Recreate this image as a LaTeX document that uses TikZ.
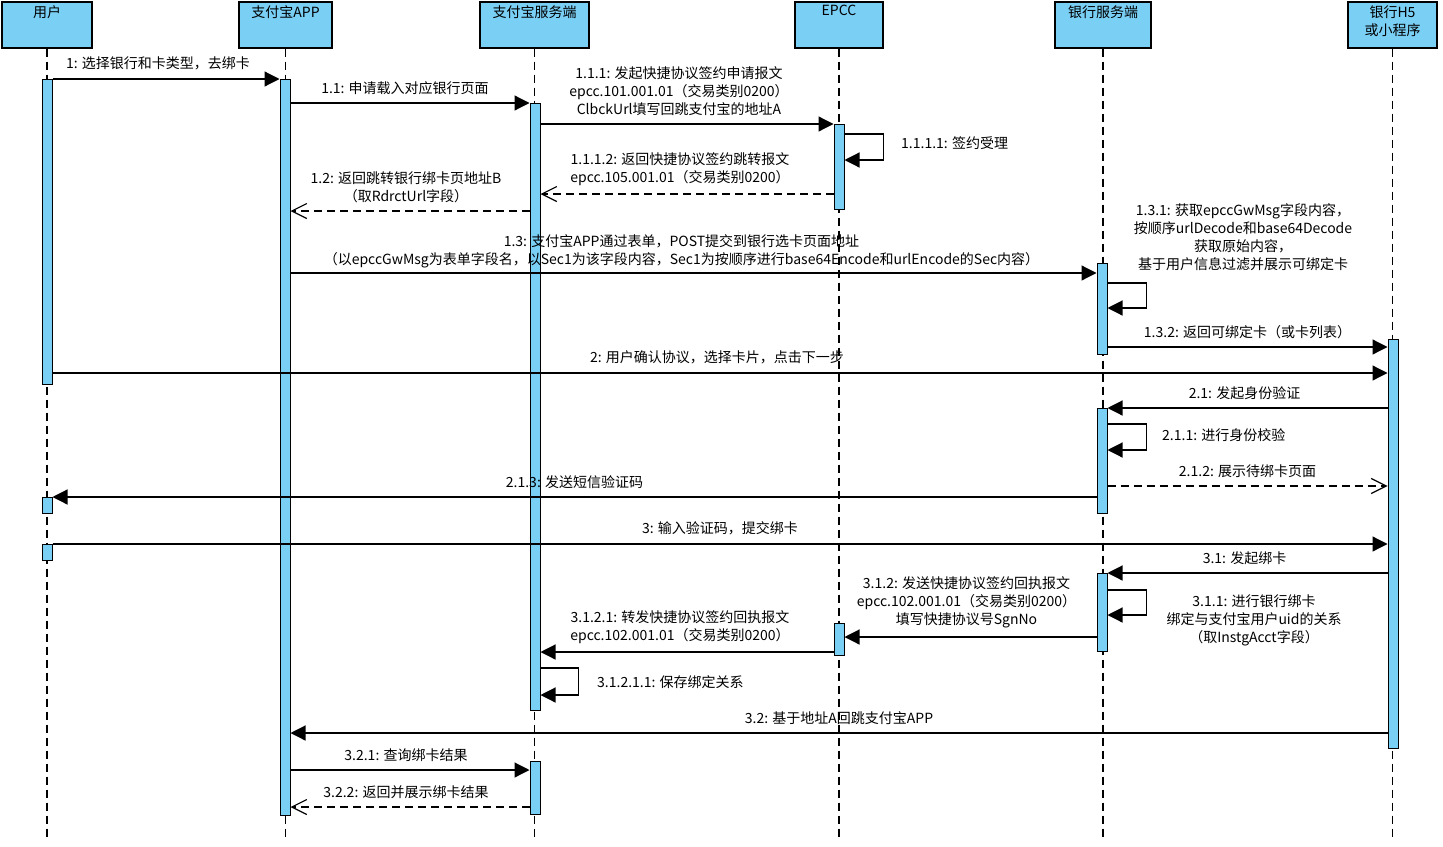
\documentclass[tikz,border=0pt]{standalone}
\usepackage{fontspec}
\setmainfont{Noto Sans CJK SC}
\usepackage{tikz}
\usetikzlibrary{positioning,arrows.meta}
\definecolor{actblue}{RGB}{122,207,245}

\begin{document}
\begin{tikzpicture}[x=1pt, y=-1pt,
    font=\fontsize{14}{18}\selectfont,
    actor/.style={rectangle, draw, fill=actblue, line width=1.3pt, minimum height=46pt, inner sep=0pt},
    bar/.style={rectangle, draw, fill=actblue, line width=1pt, minimum width=10pt, inner sep=0pt, anchor=north},
    life/.style={line width=1.1pt, dash pattern=on 8pt off 5pt},
    msg/.style={line width=1.2pt, -{Triangle[length=15pt,width=15pt]}},
    ret/.style={line width=1.2pt, dash pattern=on 8pt off 5pt, -{Straight Barb[length=15pt,width=15pt]}},
    lbl/.style={align=center, inner sep=1pt},
    head/.style={lbl, anchor=north, inner sep=4pt}]
  \useasboundingbox (0,0) rectangle (1443,846);

  % participants
  \node[actor, minimum width=90pt,  label={[head]north:用户}]       (user)    at (47,25)   {};
  \node[actor, minimum width=93pt,  label={[head]north:支付宝APP}]  (app)     at (285.5,25) {};
  \node[actor, minimum width=109pt, label={[head]north:支付宝服务端}] (alisrv) at (534.5,25) {};
  \node[actor, minimum width=88pt,  label={[head]north:EPCC}]       (epcc)    at (839,25)  {};
  \node[actor, minimum width=96pt,  label={[head]north:银行服务端}]  (banksrv) at (1103,25) {};
  \node[actor, minimum width=89pt,  label={[head]north:{银行H5\\或小程序}}] (bankh5) at (1392.5,25) {};

  % lifelines
  \foreach \p in {user,app,alisrv,epcc,banksrv,bankh5}
    \draw[life] (\p.south) -- ++(0,792);

  % activations
  \node[bar, minimum height=305pt] (userA)   at (47,79)   {};
  \node[bar, minimum height=16pt]  (userB)   at (47,497)  {};
  \node[bar, minimum height=16pt]  (userC)   at (47,544)  {};
  \node[bar, minimum height=736pt] (appA)    at (285,79)  {};
  \node[bar, minimum height=607pt] (alisrvA) at (535,103) {};
  \node[bar, minimum height=53pt]  (alisrvB) at (535,761) {};
  \node[bar, minimum height=85pt]  (epccA)   at (839,124) {};
  \node[bar, minimum height=32pt]  (epccB)   at (839,623) {};
  \node[bar, minimum height=91pt]  (bankA)   at (1102,263) {};
  \node[bar, minimum height=105pt] (bankB)   at (1102,408) {};
  \node[bar, minimum height=78pt]  (bankC)   at (1102,573) {};
  \node[bar, minimum height=409pt] (h5A)     at (1393,339) {};

  % messages
  \draw[msg] (userA.north east) -- node[lbl, above=7pt, xshift=-8pt] (t1) {1: 选择银行和卡类型，去绑卡} (appA.north west);
  \draw[msg] (appA.east |- alisrvA.north) -- node[lbl, above=7pt, xshift=-5pt] (t11) {1.1: 申请载入对应银行页面} (alisrvA.north west);
  \draw[msg] (alisrvA.east |- epccA.north) -- node[lbl, above=7pt, xshift=-8pt] (t111) {1.1.1: 发起快捷协议签约申请报文\\epcc.101.001.01（交易类别0200）\\ClbckUrl填写回跳支付宝的地址A} (epccA.north west);
  \draw[msg] (epccA.east |- 0,134) -- ++(39,0) |- (epccA.east |- 0,160);
  \node[lbl, anchor=west] (t1111) at (900,143) {1.1.1.1: 签约受理};
  \draw[ret] (epccA.west |- 0,194) -- node[lbl, above=7pt, xshift=-7pt] (t1112) {1.1.1.2: 返回快捷协议签约跳转报文\\epcc.105.001.01（交易类别0200）} (alisrvA.east |- 0,194);
  \draw[ret] (alisrvA.west |- 0,211) -- node[lbl, above=7pt, xshift=-4pt] (t12) {1.2: 返回跳转银行绑卡页地址B\\（取RdrctUrl字段）} (appA.east |- 0,211);
  \draw[msg] (appA.east |- 0,273) -- node[lbl, above=3pt, xshift=-12pt] (t13) {1.3: 支付宝APP通过表单，POST提交到银行选卡页面地址\\（以epccGwMsg为表单字段名，以Sec1为该字段内容，Sec1为按顺序进行base64Encode和urlEncode的Sec内容）} (bankA.west |- 0,273);
  \draw[msg] (bankA.east |- 0,283) -- ++(39,0) |- (bankA.east |- 0,308);
  \node[lbl] (t131) at (1243,237) {1.3.1: 获取epccGwMsg字段内容，\\按顺序urlDecode和base64Decode\\获取原始内容，\\基于用户信息过滤并展示可绑定卡};
  \draw[msg] (bankA.east |- 0,347) -- node[lbl, above=7pt] (t132) {1.3.2: 返回可绑定卡（或卡列表）} (h5A.west |- 0,347);
  \draw[msg] (userA.east |- 0,373) -- node[lbl, above=7pt, xshift=-3pt] (t2) {2: 用户确认协议，选择卡片，点击下一步} (h5A.west |- 0,373);
  \draw[msg] (h5A.west |- bankB.north) -- node[lbl, above=7pt, xshift=-3pt] (t21) {2.1: 发起身份验证} (bankB.north east);
  \draw[msg] (bankB.east |- 0,424) -- ++(39,0) |- (bankB.east |- 0,450);
  \node[lbl, anchor=west] (t211) at (1161,435) {2.1.1: 进行身份校验};
  \draw[ret] (bankB.east |- 0,486) -- node[lbl, above=7pt] (t212) {2.1.2: 展示待绑卡页面} (h5A.west |- 0,486);
  \draw[msg] (bankB.west |- userB.north) -- node[lbl, above=7pt] (t213) {2.1.3: 发送短信验证码} (userB.north east);
  \draw[msg] (userC.north east) -- node[lbl, above=7pt] (t3) {3: 输入验证码，提交绑卡} (h5A.west |- userC.north);
  \draw[msg] (h5A.west |- bankC.north) -- node[lbl, above=7pt, xshift=-3pt] (t31) {3.1: 发起绑卡} (bankC.north east);
  \draw[msg] (bankC.east |- 0,590) -- ++(39,0) |- (bankC.east |- 0,615);
  \node[lbl] (t311) at (1254,620) {3.1.1: 进行银行绑卡\\绑定与支付宝用户uid的关系\\（取InstgAcct字段）};
  \draw[msg] (bankC.west |- 0,637) -- node[lbl, above=7pt, xshift=-4pt] (t312) {3.1.2: 发送快捷协议签约回执报文\\epcc.102.001.01（交易类别0200）\\填写快捷协议号SgnNo} (epccB.east |- 0,637);
  \draw[msg] (epccB.west |- 0,652) -- node[lbl, above=7pt, xshift=-7pt] (t3121) {3.1.2.1: 转发快捷协议签约回执报文\\epcc.102.001.01（交易类别0200）} (alisrvA.east |- 0,652);
  \draw[msg] (alisrvA.east |- 0,668) -- ++(38,0) |- (alisrvA.east |- 0,695);
  \node[lbl, anchor=west] (t31211) at (596,682) {3.1.2.1.1: 保存绑定关系};
  \draw[msg] (h5A.west |- 0,733) -- node[lbl, above=7pt] (t32) {3.2: 基于地址A回跳支付宝APP} (appA.east |- 0,733);
  \draw[msg] (appA.east |- 0,770) -- node[lbl, above=7pt, xshift=-4pt] (t321) {3.2.1: 查询绑卡结果} (alisrvB.west |- 0,770);
  \draw[ret] (alisrvB.west |- 0,807) -- node[lbl, above=7pt, xshift=-4pt] (t322) {3.2.2: 返回并展示绑卡结果} (appA.east |- 0,807);
\end{tikzpicture}
\end{document}
